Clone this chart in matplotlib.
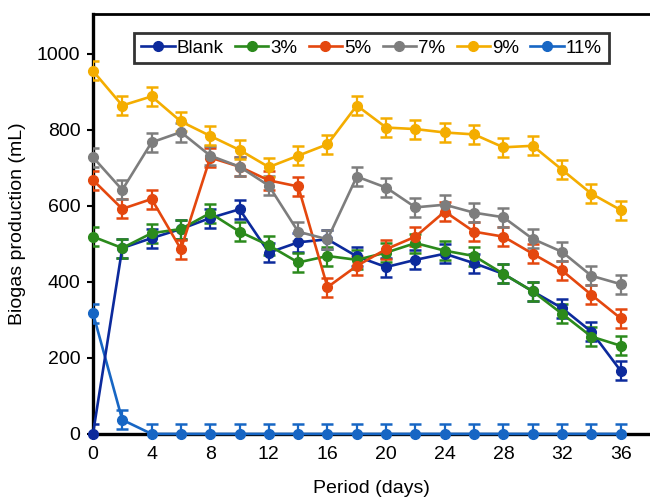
import numpy as np
import matplotlib
matplotlib.use("Agg")
import matplotlib.pyplot as plt

plt.rcParams['font.family'] = ['Liberation Sans', 'DejaVu Sans']

# sampling days
days = [0, 2, 4, 6, 8, 10, 12, 14, 16, 18, 20, 22, 24, 26, 28, 30, 32, 34, 36]

# biogas production (mL) per additive level
blank = [0, 489, 515, 539, 568, 591, 477, 504, 512, 467, 439, 458, 474, 449, 421, 375, 331, 269, 166]
p3 = [519, 489, 528, 539, 581, 532, 496, 451, 468, 458, 477, 502, 482, 468, 421, 375, 316, 256, 232]
p5 = [668, 592, 618, 486, 727, 703, 667, 651, 386, 442, 486, 519, 585, 532, 519, 474, 430, 366, 304]
p7 = [728, 642, 767, 794, 732, 703, 653, 532, 512, 677, 648, 596, 603, 582, 570, 513, 479, 416, 394]
p9 = [955, 864, 888, 822, 784, 747, 702, 732, 762, 864, 806, 802, 793, 788, 754, 758, 695, 632, 589]
p11 = [318, 37, 0, 0, 0, 0, 0, 0, 0, 0, 0, 0, 0, 0, 0, 0, 0, 0, 0]

err = 25  # approx. error bar half-height (mL)

labels = ["Blank", "3%", "5%", "7%", "9%", "11%"]
colors = ["#0c2a9c", "#2b8a1c", "#e4470e", "#7d7d7d", "#f4ad00", "#1766c4"]
series = [blank, p3, p5, p7, p9, p11]

fig = plt.figure(figsize=(6.5, 4.97), dpi=100)
ax = fig.add_axes([0.143, 0.127, 0.857, 0.845])

# draw 11% first so it stays behind, then the rest
order = [5, 0, 1, 2, 3, 4]
handles = {}
for i in order:
    eb = ax.errorbar(days, series[i], yerr=err, color=colors[i], lw=1.9,
                     marker="o", ms=7, capsize=4, capthick=1.8, elinewidth=1.6,
                     label=labels[i], clip_on=False, zorder=3)
    for a in eb.lines[1] + eb.lines[2]:
        if hasattr(a, "set_clip_on"):
            a.set_clip_on(True)
    handles[labels[i]] = eb.lines[0]

ax.set_xlim(0, 38)
ax.set_ylim(0, 1105)
ax.set_xticks(np.arange(0, 37, 4))
ax.set_yticks(np.arange(0, 1001, 200))
ax.tick_params(labelsize=14, length=4, width=1.5, direction="out", pad=5)

for side in ["left", "bottom"]:
    ax.spines[side].set_linewidth(2.4)
ax.spines["top"].set_linewidth(2)
ax.spines["right"].set_visible(False)

ax.set_xlabel("Period (days)", fontsize=14, labelpad=12)
ax.set_ylabel("Biogas production (mL)", fontsize=14, labelpad=8)

leg = ax.legend([handles[l] for l in labels], labels, loc="upper center",
                bbox_to_anchor=(0.5, 0.955), ncol=6, fontsize=13.5,
                frameon=True, fancybox=False, handlelength=1.8,
                handletextpad=0.1, columnspacing=0.6, borderpad=0.35,
                borderaxespad=0)
leg.get_frame().set_edgecolor("black")
leg.get_frame().set_linewidth(2)

fig.savefig("out.png", dpi=100)
